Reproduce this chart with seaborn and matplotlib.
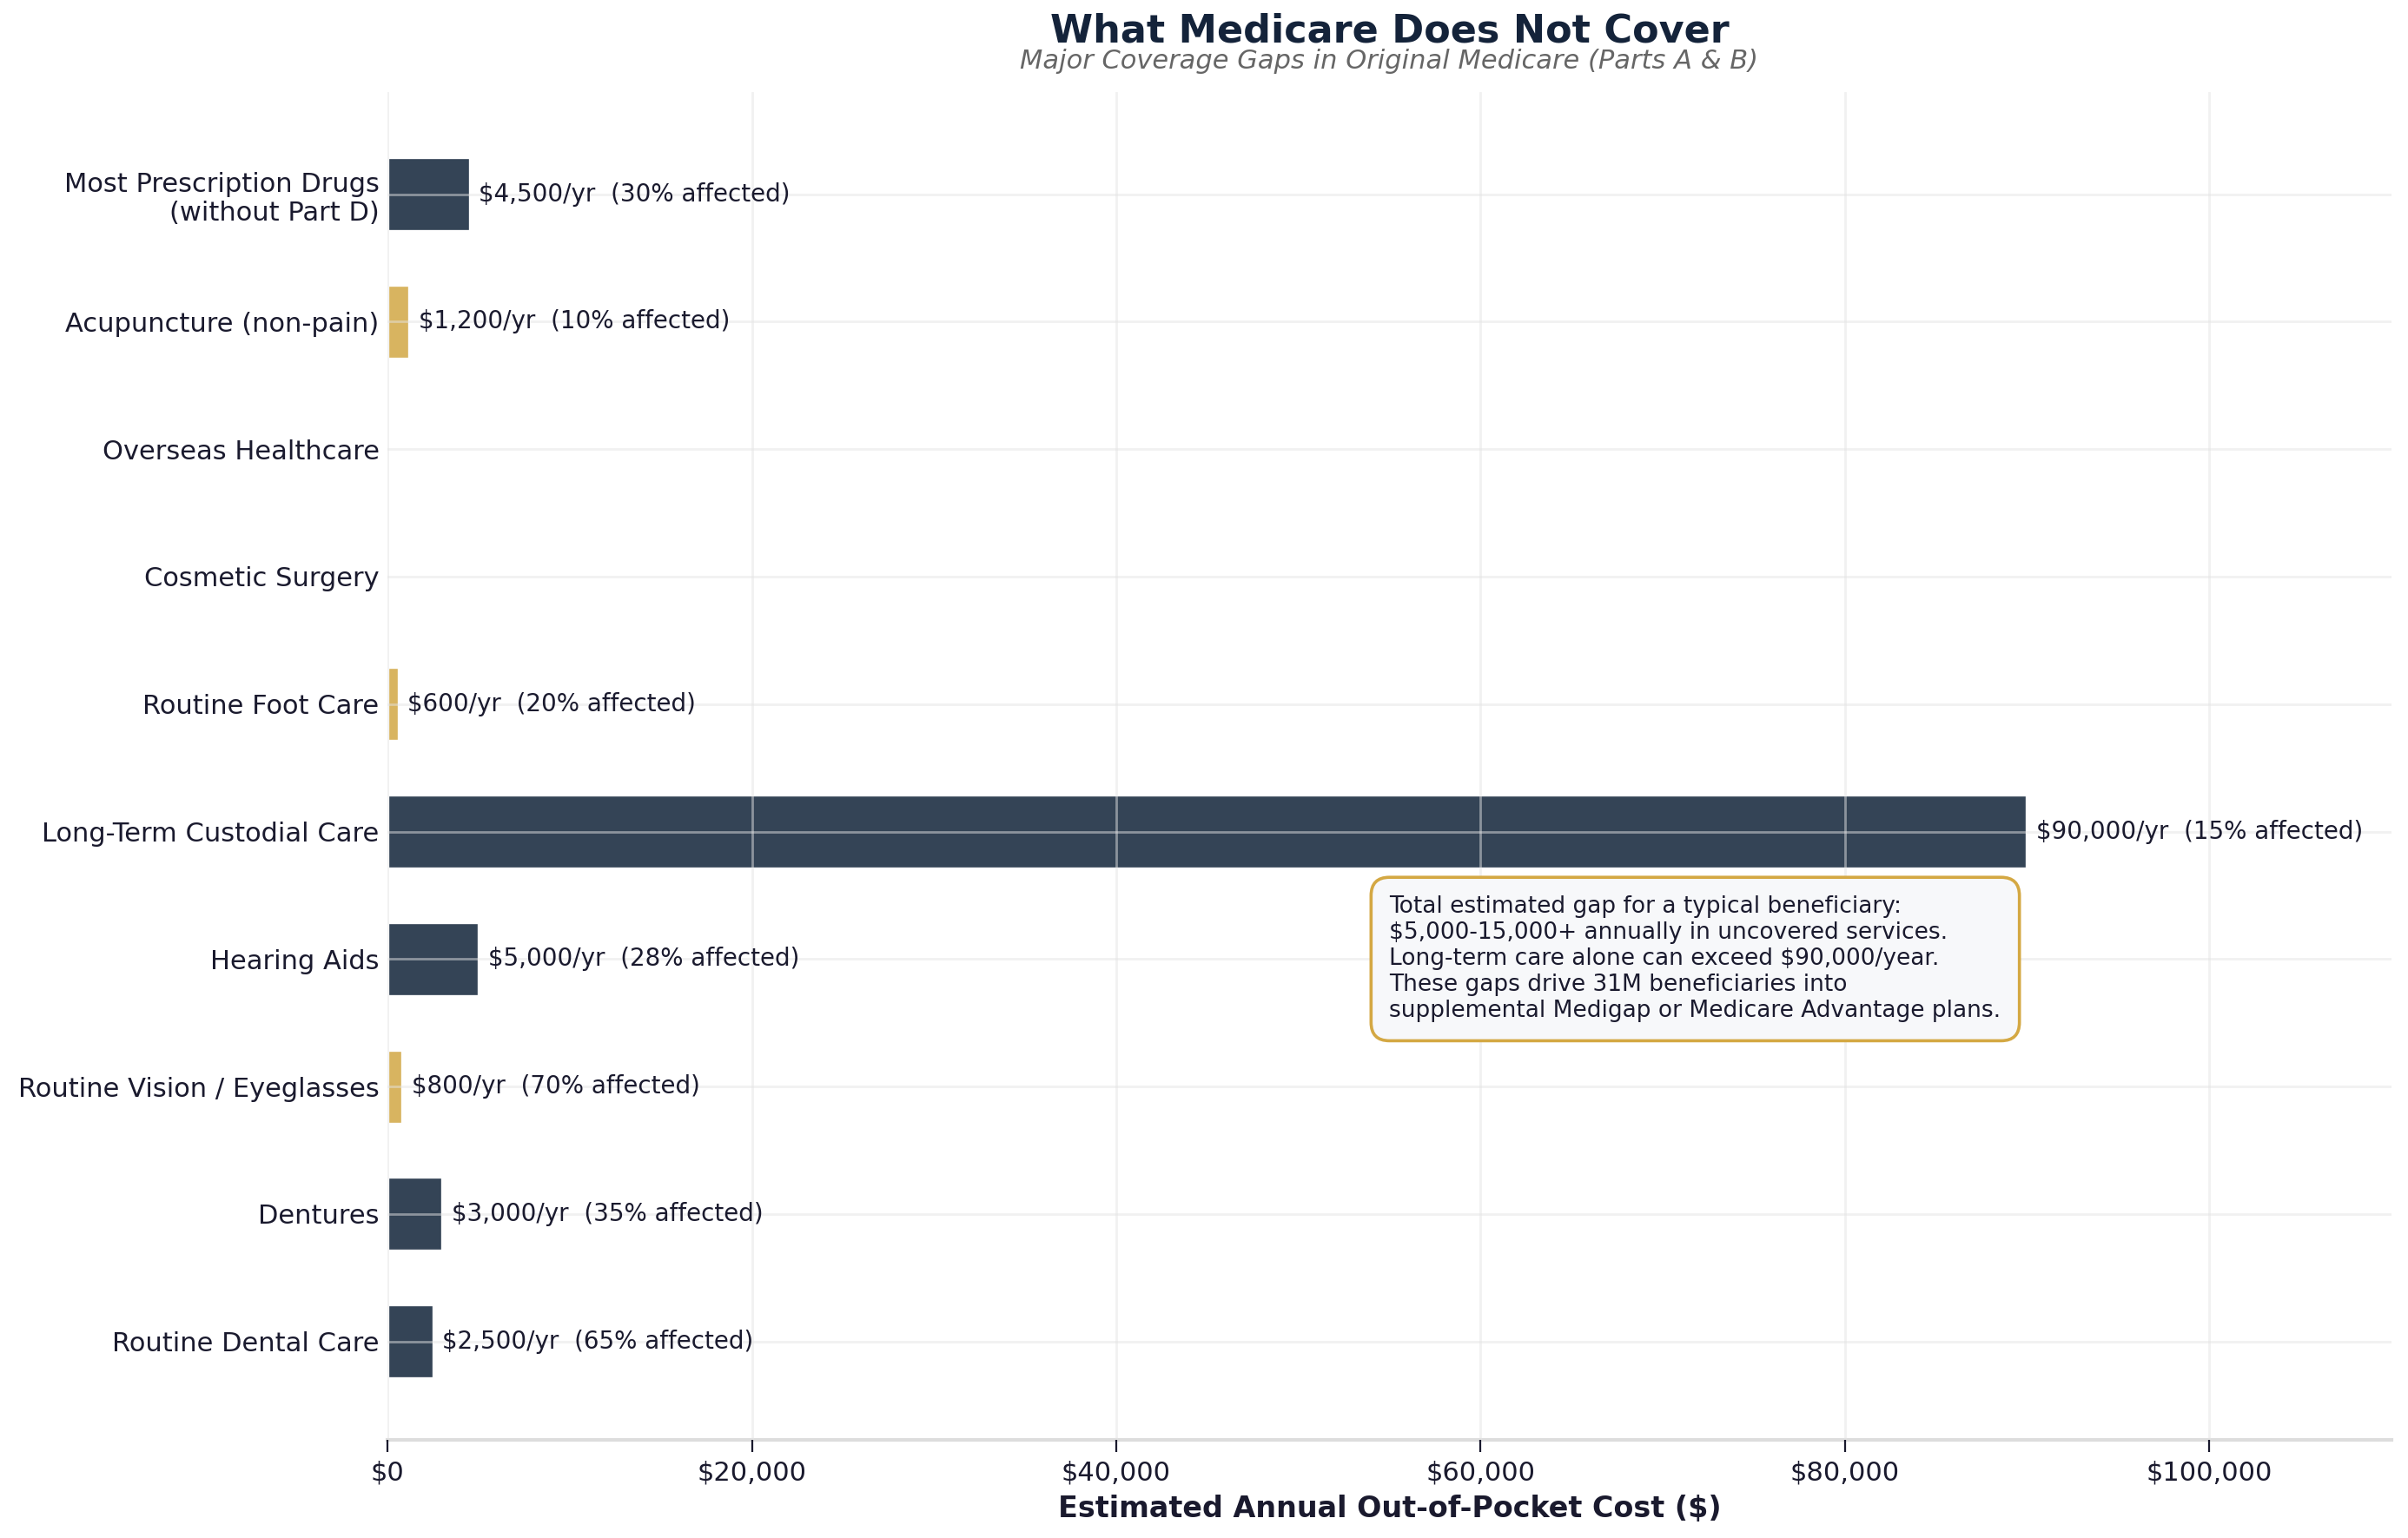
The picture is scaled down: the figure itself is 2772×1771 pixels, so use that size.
import numpy as np
import pandas as pd
import matplotlib.pyplot as plt
import seaborn as sns

# Data, listed top to bottom as in the chart
services = ['Most Prescription Drugs\n(without Part D)', 'Acupuncture (non-pain)',
            'Overseas Healthcare', 'Cosmetic Surgery', 'Routine Foot Care',
            'Long-Term Custodial Care', 'Hearing Aids', 'Routine Vision / Eyeglasses',
            'Dentures', 'Routine Dental Care']
annual_cost = [4500, 1200, 0, 0, 600, 90000, 5000, 800, 3000, 2500]
pct_affected = [30, 10, 0, 0, 20, 15, 28, 70, 35, 65]

DARK = '#344456'
GOLD = '#d8b460'
TEXT = '#1a1a2e'

def bar_colors(costs):
    # small ticket items in gold, the rest dark
    return [GOLD if c < 2000 else DARK for c in costs]

sns.set_style('whitegrid')
plt.rcParams['font.family'] = ['DejaVu Sans']

df = pd.DataFrame({'Service': services, 'Cost': annual_cost, 'Pct': pct_affected})

fig, ax = plt.subplots(figsize=(13.86, 8.855), dpi=200)
fig.subplots_adjust(left=0.161, right=0.993, top=0.940, bottom=0.064)

sns.barplot(data=df, x='Cost', y='Service', hue='Service', palette=bar_colors(annual_cost),
            orient='h', width=0.58, saturation=1, edgecolor='white', linewidth=1.2,
            legend=False, ax=ax)

# value labels
for i, (c, p) in enumerate(zip(annual_cost, pct_affected)):
    if c > 0:
        ax.text(c + 500, i, f'${c:,}/yr  ({p}% affected)', va='center', ha='left',
                fontsize=10, color=TEXT)

ax.set_xlim(0, 110000)
ax.set_ylim(9.77, -0.8)
ax.xaxis.set_major_formatter(plt.FuncFormatter(lambda v, _: f'${v:,.0f}'))
ax.set_xticks(np.arange(0, 100001, 20000))

ax.set_axisbelow(False)
ax.grid(True, color='#e4e4e4', alpha=0.5, linewidth=1)
for s in ['top', 'right', 'left']:
    ax.spines[s].set_visible(False)
ax.spines['bottom'].set_color('#dddddd')
ax.spines['bottom'].set_linewidth(1.5)
ax.tick_params(axis='y', length=0, labelsize=11, labelcolor=TEXT)
ax.tick_params(axis='x', length=5, color=TEXT, labelsize=11, labelcolor=TEXT, bottom=True)

ax.set_ylabel('')
ax.set_xlabel('Estimated Annual Out-of-Pocket Cost ($)', fontsize=12, fontweight='bold',
              color=TEXT)

ax.text(0.5, 1.045, 'What Medicare Does Not Cover', transform=ax.transAxes,
        ha='center', va='center', fontsize=16, fontweight='bold', color='#14233a')
ax.text(0.5, 1.023, 'Major Coverage Gaps in Original Medicare (Parts A & B)',
        transform=ax.transAxes, ha='center', va='center', fontsize=11,
        style='italic', color='#666666')

note = ('Total estimated gap for a typical beneficiary:\n'
        '$5,000-15,000+ annually in uncovered services.\n'
        'Long-term care alone can exceed $90,000/year.\n'
        'These gaps drive 31M beneficiaries into\n'
        'supplemental Medigap or Medicare Advantage plans.')
ax.text(55000, 6.0, note, ha='left', va='center', fontsize=9.5, color=TEXT,
        linespacing=1.2, zorder=5,
        bbox=dict(boxstyle='round,pad=0.8', facecolor='#f7f8fa', edgecolor='#d4a843',
                  linewidth=1.3))

fig.savefig('out.png', dpi=200)
